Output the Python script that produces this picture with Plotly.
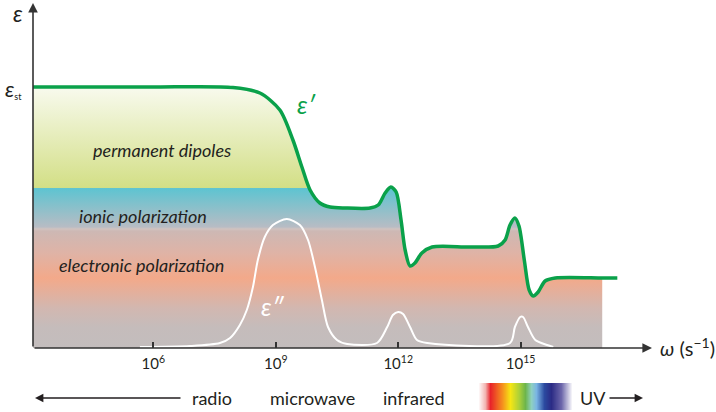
import plotly.graph_objects as go

W, H = 716, 412

# ---------------- data ----------------
# x = log10(omega / s^-1), y = arbitrary permittivity units
log_omega_eps1 = [3.05, 5.91, 7.95, 8.61, 9.10, 9.42, 9.64, 9.84, 10.08, 10.33, 10.70,
                  11.31, 11.51, 11.68, 11.82, 11.95, 12.07, 12.17, 12.29, 12.41, 12.58,
                  12.83, 13.76, 14.45, 14.62, 14.74, 14.86, 14.96, 15.09, 15.21, 15.31,
                  15.43, 15.60, 15.85, 17.00, 17.37]
eps1 = [261, 261, 260.5, 255, 238, 208, 181, 158, 145, 141, 140,
        140, 143, 155, 161, 156, 128, 98, 82, 85, 95,
        101, 101, 102, 108, 123, 130, 122, 88, 58, 52,
        56, 67, 70, 70, 70]

log_omega_eps2 = [5.67, 6.90, 7.63, 7.88, 8.12, 8.29, 8.44, 8.56, 8.73, 8.93, 9.27,
                  9.59, 9.79, 9.96, 10.13, 10.28, 10.50, 10.75, 11.48, 11.73, 11.87,
                  12.00, 12.12, 12.29, 12.46, 12.71, 14.74, 14.86, 14.99, 15.06, 15.18,
                  15.36, 15.65, 15.80]
eps2 = [1, 2, 5, 10, 23, 38, 61, 88, 111, 123, 129,
        123, 108, 81, 48, 21, 8, 4, 5, 21, 33,
        36, 34, 21, 8, 5, 5, 21, 31, 31, 21,
        8, 3, 1]

eps_st = 261
fill_end = 17.0

tick_vals = [6, 9, 12, 15]
tick_text = ["10<sup>6</sup>", "10<sup>9</sup>", "10<sup>12</sup>", "10<sup>15</sup>"]

band_labels = ["permanent dipoles", "ionic polarization", "electronic polarization"]
band_label_x = [6.21, 5.74, 5.72]
band_label_y = [198, 132, 83]

region_names = ["radio", "microwave", "infrared", "UV"]
region_left_px = [190, 268, 381, 578]

band_pos = [0.0, 0.08, 0.153, 0.268, 0.364, 0.448, 0.456, 0.464, 0.611, 0.615, 1.0]
band_col = ["#c3bdbd", "#c5bcbb", "#d2b7b0", "#f3a98a", "#dfb3a6", "#cdb8b4", "#d1c3c0",
            "#b7bcc4", "#5ec4d1", "#d3df86", "#f8faee"]

spectrum_pos = [0.0, 0.07, 0.13, 0.25, 0.34, 0.44, 0.50, 0.56, 0.62, 0.70, 0.78, 0.88, 1.0]
spectrum_col = ["#ffffff", "#f2b3b0", "#e8232a", "#f5901e", "#f6e614", "#a9cf3a", "#6db54b",
                "#8ed0c0", "#7ab5e3", "#2b4aa0", "#2b2b85", "#6c66aa", "#ffffff"]

FONT = "Lato"
TXT = "#231f20"
GREEN = "#0aa14a"

# plot-area geometry in pixels
PX_L, PX_R, PY_T, PY_B = 33, 652, 3, 348


def px(x):
    return x / W


def py(y):
    return 1 - y / H


fig = go.Figure()

n_fill = sum(1 for v in log_omega_eps1 if v <= fill_end)
fig.add_trace(go.Scatter(
    x=log_omega_eps1[:n_fill], y=eps1[:n_fill], mode="lines",
    line=dict(width=0, shape="spline", smoothing=0.8),
    fill="tozeroy",
    fillgradient=dict(type="vertical", start=0, stop=eps_st,
                      colorscale=[[p, c] for p, c in zip(band_pos, band_col)]),
    hoverinfo="skip", showlegend=False))

fig.add_trace(go.Scatter(
    x=log_omega_eps2, y=eps2, mode="lines",
    line=dict(width=2, color="white", shape="spline", smoothing=0.8),
    hoverinfo="skip", showlegend=False))

fig.add_trace(go.Scatter(
    x=log_omega_eps1, y=eps1, mode="lines",
    line=dict(width=3.5, color=GREEN, shape="spline", smoothing=0.8),
    hoverinfo="skip", showlegend=False))

fig.add_trace(go.Heatmap(
    z=[spectrum_pos], x=spectrum_pos, y=[0],
    colorscale=[[p, c] for p, c in zip(spectrum_pos, spectrum_col)],
    zmin=0, zmax=1, zsmooth="best", showscale=False,
    xaxis="x2", yaxis="y2", hoverinfo="skip"))

ann = []
for t, x, y in zip(band_labels, band_label_x, band_label_y):
    ann.append(dict(x=x, y=y, xref="x", yref="y", text=f"<i>{t}</i>", showarrow=False,
                    font=dict(family=FONT, size=18, color=TXT)))

ann.append(dict(x=9.76, y=244, xref="x", yref="y", text="<i>ε′</i>", showarrow=False,
                font=dict(family=FONT, size=25, color=GREEN)))
ann.append(dict(x=8.93, y=42, xref="x", yref="y", text="<i>ε″</i>", showarrow=False,
                font=dict(family=FONT, size=25, color="white")))
ann.append(dict(x=px(17.5), y=py(13), xref="paper", yref="paper", xanchor="center",
                yanchor="middle", text="<i>ε</i>", showarrow=False,
                font=dict(family=FONT, size=23, color=TXT)))
ann.append(dict(x=px(3), y=py(88), xref="paper", yref="paper", xanchor="left",
                yanchor="middle",
                text="<i>ε</i><span style='font-size:13px'><sub>st</sub></span>",
                showarrow=False, font=dict(family=FONT, size=22, color=TXT)))
ann.append(dict(x=px(658), y=py(347), xref="paper", yref="paper", xanchor="left",
                yanchor="middle", text="<i>ω</i> (s<sup>−1</sup>)", showarrow=False,
                font=dict(family=FONT, size=20, color=TXT)))

for t, xl in zip(region_names, region_left_px):
    ann.append(dict(x=px(xl), y=py(398), xref="paper", yref="paper", xanchor="left",
                    yanchor="middle", text=t, showarrow=False,
                    font=dict(family=FONT, size=18, color=TXT)))

# axis arrows
ann.append(dict(x=px(PX_R), y=py(PY_B), xref="paper", yref="paper", text="",
                showarrow=True, ax=-(PX_R - PX_L), ay=0, arrowhead=2, arrowsize=1.2,
                arrowwidth=1.6, arrowcolor="#333333"))
ann.append(dict(x=px(PX_L), y=py(PY_T), xref="paper", yref="paper", text="",
                showarrow=True, ax=0, ay=(PY_B - PY_T), arrowhead=2, arrowsize=1.2,
                arrowwidth=1.6, arrowcolor="#333333"))
# region arrows
ann.append(dict(x=px(35), y=py(398), xref="paper", yref="paper", text="",
                showarrow=True, ax=147, ay=0, arrowhead=2, arrowsize=1.2,
                arrowwidth=1.4, arrowcolor="#231f20"))
ann.append(dict(x=px(643), y=py(398), xref="paper", yref="paper", text="",
                showarrow=True, ax=-35, ay=0, arrowhead=2, arrowsize=1.2,
                arrowwidth=1.4, arrowcolor="#231f20"))

fig.update_layout(
    width=W, height=H,
    margin=dict(l=0, r=0, t=0, b=0),
    paper_bgcolor="white", plot_bgcolor="white",
    showlegend=False,
    annotations=ann,
    xaxis=dict(domain=[px(PX_L), px(PX_R)], range=[3.05, 18.22],
               showgrid=False, zeroline=False, showline=False,
               tickmode="array", tickvals=tick_vals, ticktext=tick_text,
               ticks="inside", ticklen=6, tickwidth=1.5, tickcolor="#333333",
               ticklabelstandoff=5,
               tickfont=dict(family=FONT, size=15, color=TXT)),
    yaxis=dict(domain=[py(PY_B), py(PY_T)], range=[0, PY_B - PY_T],
               showgrid=False, zeroline=False, showline=False,
               showticklabels=False, ticks=""),
    xaxis2=dict(domain=[px(478), px(572)], range=[0, 1], anchor="y2",
                visible=False),
    yaxis2=dict(domain=[py(410), py(383)], range=[-0.5, 0.5], anchor="x2",
                visible=False),
)

fig.write_html("out.html")
